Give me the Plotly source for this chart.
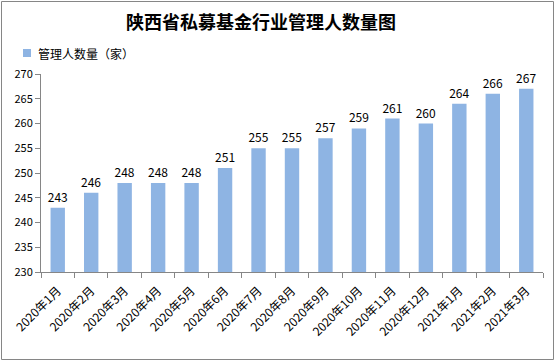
import plotly.graph_objects as go

categories = ["2020年1月", "2020年2月", "2020年3月", "2020年4月", "2020年5月", "2020年6月",
              "2020年7月", "2020年8月", "2020年9月", "2020年10月", "2020年11月", "2020年12月",
              "2021年1月", "2021年2月", "2021年3月"]
values = [243, 246, 248, 248, 248, 251, 255, 255, 257, 259, 261, 260, 264, 266, 267]
series_name = "管理人数量（家）"
title_text = "陕西省私募基金行业管理人数量图"

W, H = 556, 362
L, R, T, B = 41, 13, 74, 90
pw, ph = W - L - R, H - T - B
bar_color = "#8EB4E3"

def px_x(x):
    return (x - L) / pw

def px_y(y):
    return (H - B - y) / ph

font_fam = "Noto Sans CJK SC, DejaVu Sans, sans-serif"

fig = go.Figure()
fig.add_trace(go.Bar(
    x=categories, y=values, name=series_name,
    marker=dict(color=bar_color, line=dict(width=0)),
    width=0.43,
    text=[str(v) for v in values], textposition="outside",
    constraintext="none",
    textfont=dict(size=12, color="#000000", family=font_fam),
    cliponaxis=False,
    hoverinfo="skip",
))

fig.update_layout(
    width=W, height=H,
    margin=dict(l=L, r=R, t=T, b=B, autoexpand=False),
    paper_bgcolor="white", plot_bgcolor="white",
    font=dict(family=font_fam, size=11, color="#000000"),
    title=dict(text="<b>" + title_text + "</b>", x=261 / W, xanchor="center",
               y=1 - 23 / H, yanchor="middle",
               font=dict(size=18, family=font_fam, color="#000000")),
    showlegend=False,
    xaxis=dict(type="category", tickangle=-45, showline=True, linecolor="#868686",
               linewidth=1, ticks="outside", tickson="boundaries", ticklen=5,
               tickcolor="#868686", showgrid=False, tickfont=dict(size=12),
               ticklabelstandoff=6, automargin=False),
    yaxis=dict(range=[230, 270], dtick=5, showline=True, linecolor="#868686",
               linewidth=1, ticks="outside", ticklen=5, tickcolor="#868686",
               showgrid=False, zeroline=False, tickfont=dict(size=11),
               automargin=False),
    shapes=[
        dict(type="rect", xref="paper", yref="paper",
             x0=px_x(1.5), x1=px_x(553.5), y0=px_y(359.5), y1=px_y(1.5),
             line=dict(color="#868686", width=1), fillcolor="rgba(0,0,0,0)"),
        dict(type="rect", xref="paper", yref="paper",
             x0=px_x(23), x1=px_x(31), y0=px_y(57), y1=px_y(49),
             line=dict(width=0), fillcolor=bar_color),
    ],
    annotations=[dict(text=series_name, xref="paper", yref="paper",
                      x=px_x(36), y=px_y(53), xanchor="left", yanchor="middle",
                      showarrow=False, font=dict(size=12, family=font_fam, color="#000000"))],
)

fig.write_html("out.html", config={"displayModeBar": False},
               post_script="document.body.style.margin='0';document.body.style.overflow='hidden';")
